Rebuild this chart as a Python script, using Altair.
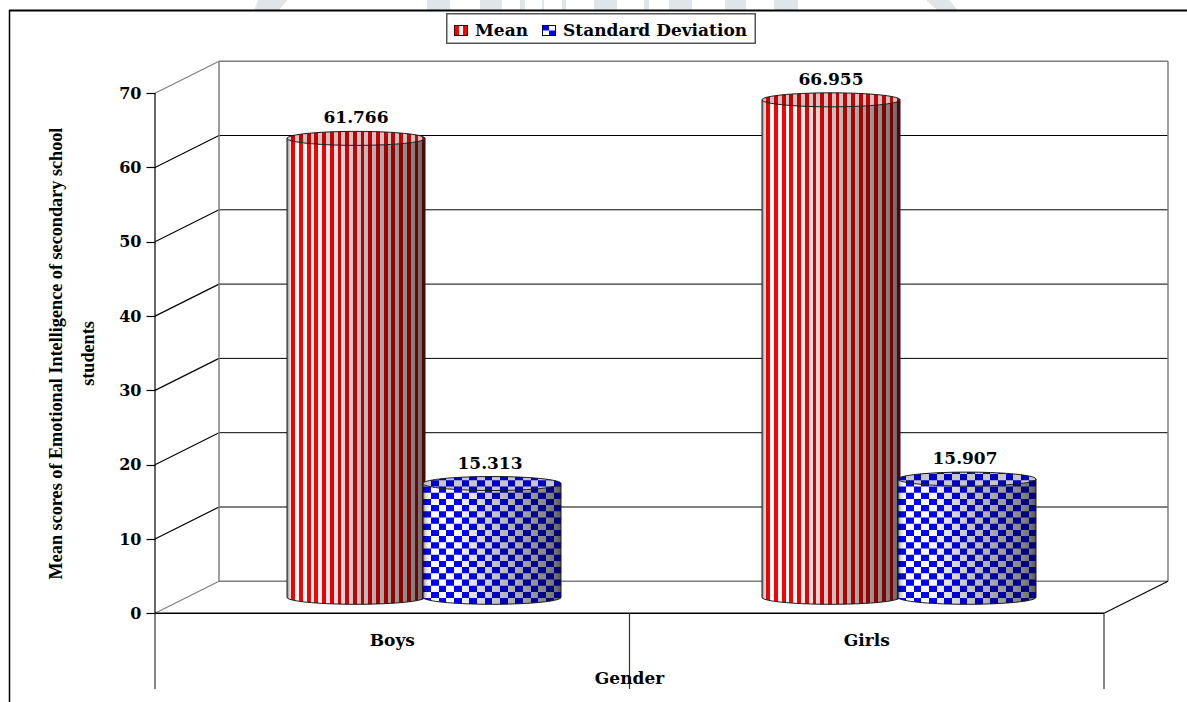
import math
import altair as alt
import pandas as pd

# Chart values
categories = ["Boys", "Girls"]
mean_scores = [61.766, 66.955]
std_devs = [15.313, 15.907]
y_ticks = [0, 10, 20, 30, 40, 50, 60, 70]
y_title = ["Mean scores of Emotional Intelligence of secondary school", "students"]
x_title = "Gender"

# Scale calibration: category units across, score units up
PX_PER_CAT = 474.5
PX_PER_VAL = 7.43
X0 = 155.0
Y0 = 613.3
W, H = 1187, 702
ux = lambda px: (px - X0) / PX_PER_CAT
uy = lambda py: (Y0 - py) / PX_PER_VAL
x_scale = alt.Scale(domain=[ux(0), ux(W)], range=[0, W], nice=False, zero=False)
y_scale = alt.Scale(domain=[uy(H), uy(0)], range=[H, 0], nice=False, zero=False)

# Oblique depth of the 3D box and cylinder proportions
DEPTH_X = 64 / PX_PER_CAT
DEPTH_Y = 32 / PX_PER_VAL
CYL_W = 138
CAP_B = 7 / PX_PER_VAL
SERIF = "Liberation Serif"
WIDE = "DejaVu Serif"
H_FONT = 17


def mix(rgb, k):
    return "#%02x%02x%02x" % tuple(max(0, min(255, round(c * k))) for c in rgb)


SHADE_STOPS = [(0, .5), (.02, .85), (.05, 1), (.2, 1), (.5, .78), (.75, .62), (.9, .52), (.96, .45), (1, .35)]


def shade(t):
    for (a, ka), (b, kb) in zip(SHADE_STOPS, SHADE_STOPS[1:]):
        if t <= b:
            return ka + (kb - ka) * (t - a) / (b - a)
    return SHADE_STOPS[-1][1]


RED, BLUE, WHITE = (255, 0, 0), (0, 0, 255), (255, 255, 255)
STRIPE = 3.85
CELL_W, CELL_H = 7.65, 6.2
CAP_SHADE = .78


def rects_frame(left, value, kind):
    """Per-column rectangles that paint the patterned surface of one cylinder."""
    rows = []
    half = CYL_W / 2
    cx = left + half
    vc_top = value + DEPTH_Y / 2
    vc_bot = DEPTH_Y / 2

    def add(px, v0, v1, col):
        rows.append(dict(x=ux(px), x2=ux(px + 1), y=v0, y2=v1, c=col))

    for i in range(CYL_W):
        px = left + i
        t = (i + .5) / CYL_W
        arc = CAP_B * math.sqrt(max(0, 1 - ((px + .5 - cx) / half) ** 2))
        k = shade(t)
        if kind == "stripe":
            tint = RED if int(i / STRIPE) % 2 == 1 else WHITE
            add(px, vc_bot - arc, vc_top - arc, mix(tint, k))
            add(px, vc_top - arc, vc_top + arc, mix(tint, CAP_SHADE))
        else:
            col_i = int(i / CELL_W)
            add(px, vc_bot - arc, vc_top - arc, mix(WHITE, k))
            add(px, vc_top - arc, vc_top + arc, mix(WHITE, CAP_SHADE))
            # Blue checks, cut to the curved outline of the body and of the cap
            span_top = vc_top + arc
            span_bot = vc_bot - arc
            rim = vc_top - arc
            v = DEPTH_Y / 2 - CAP_B
            step = CELL_H / PX_PER_VAL
            row = 0
            while v < span_top:
                if (row + col_i) % 2 == 0:
                    lo, hi = max(v, span_bot), min(v + step, span_top)
                    if hi > lo:
                        if lo < rim:
                            add(px, lo, min(hi, rim), mix(BLUE, max(k, .5)))
                        if hi > rim:
                            add(px, max(lo, rim), hi, mix(BLUE, CAP_SHADE))
                v += step
                row += 1
    return pd.DataFrame(rows)


def outline_frame(left, value):
    """Outline of one cylinder: closed top ellipse, side walls and lower rim."""
    rows = []
    half = CYL_W / 2
    cx = left + half
    vc_top = value + DEPTH_Y / 2
    vc_bot = DEPTH_Y / 2
    for j in range(73):
        a = 2 * math.pi * j / 72
        rows.append(dict(g="cap", i=j, x=ux(cx + half * math.cos(a)), y=vc_top + CAP_B * math.sin(a)))
    for j in range(37):
        a = math.pi * j / 36
        rows.append(dict(g="rim", i=j, x=ux(cx + half * math.cos(a)), y=vc_bot - CAP_B * math.sin(a)))
    for s, sign in (("wl", -1), ("wr", 1)):
        rows.append(dict(g=s, i=0, x=ux(cx + sign * half), y=vc_top))
        rows.append(dict(g=s, i=1, x=ux(cx + sign * half), y=vc_bot))
    return pd.DataFrame(rows)


def rect_layer(df):
    return alt.Chart(df).mark_rect(strokeWidth=0).encode(
        x=alt.X("x:Q", scale=x_scale, axis=None), x2="x2:Q",
        y=alt.Y("y:Q", scale=y_scale, axis=None), y2="y2:Q",
        fill=alt.Fill("c:N", scale=None),
    )


def rule_layer(df, axis=None):
    return alt.Chart(df).mark_rule().encode(
        x=alt.X("x:Q", scale=x_scale, axis=None), x2="x2:Q",
        y=alt.Y("y:Q", scale=y_scale, axis=axis), y2="y2:Q",
        stroke=alt.Stroke("c:N", scale=None),
        strokeWidth=alt.StrokeWidth("w:Q", scale=None),
    )


def seg(x, y, x2, y2, c="#000000", w=1.0):
    return dict(x=x, y=y, x2=x2, y2=y2, c=c, w=w)


# Faint letter fragments showing along the top edge of the page
WASH = "#dfe5e9"
wash_spans = [(427, 450), (480, 502), (520, 525), (542, 544), (562, 566), (594, 617),
              (644, 649), (669, 692), (725, 746), (774, 798)]
wash_rows = [dict(x=ux(a), x2=ux(b), y=uy(0), y2=uy(10), c=WASH) for a, b in wash_spans]
for row in range(5):
    top, bot = row * 2, row * 2 + 2
    wash_rows.append(dict(x=ux(258 - row * .9), x2=ux(287 - row * 1.8), y=uy(top), y2=uy(bot), c=WASH))
    wash_rows.append(dict(x=ux(927 + row * 2.2), x2=ux(950 + row * 1.6), y=uy(top), y2=uy(bot), c=WASH))
wash = rect_layer(pd.DataFrame(wash_rows))

# Page border: top and left edges only
border = rule_layer(pd.DataFrame([
    seg(ux(9), uy(10.5), ux(W), uy(10.5), "#000000", 2),
    seg(ux(9.5), uy(10), ux(9.5), uy(H), "#000000", 1.5),
]))

# Oblique box: back wall, floor and left wall
GREY = "#7f7f7f"
box_rows = []
for v in y_ticks:
    edge = v in (y_ticks[0], y_ticks[-1])
    c, w = (GREY, 1.5) if edge else ("#000000", 1.0)
    box_rows.append(seg(DEPTH_X, v + DEPTH_Y, 2 + DEPTH_X, v + DEPTH_Y, c, w))
    box_rows.append(seg(0, v, DEPTH_X, v + DEPTH_Y, c if edge else "#000000", 1.2))
box_rows += [
    seg(DEPTH_X, DEPTH_Y, DEPTH_X, y_ticks[-1] + DEPTH_Y, GREY, 1.5),
    seg(2 + DEPTH_X, DEPTH_Y, 2 + DEPTH_X, y_ticks[-1] + DEPTH_Y, GREY, 1.5),
    seg(2, 0, 2 + DEPTH_X, DEPTH_Y, "#000000", 1.2),
]
y_axis = alt.Axis(
    values=y_ticks, offset=-X0, domain=False, grid=False, tickSize=9, tickColor="#000000", tickWidth=1.2,
    labelFont=WIDE, labelFontSize=16, labelFontWeight="bold", labelColor="#000000", labelPadding=5,
    title=y_title, titleFont=SERIF, titleFontSize=18.2, titleFontWeight="bold", titleColor="#000000",
    titleLineHeight=32, titleAngle=270, titleX=-90, titleY=353, titleAlign="center", titleBaseline="bottom",
)
box = rule_layer(pd.DataFrame(box_rows), axis=y_axis)

# Front edges of the box and the category dividers under the floor
AX_BOTTOM = uy(689)
front = rule_layer(pd.DataFrame([
    seg(0, 0, 0, y_ticks[-1], "#000000", 1.2),
    seg(0, 0, 2, 0, "#000000", 1.5),
    seg(0, AX_BOTTOM, 0, 0, "#333333", 1.2),
    seg(1, AX_BOTTOM, 1, 0, "#333333", 1.2),
    seg(2, AX_BOTTOM, 2, 0, "#333333", 1.2),
]))

# One striped and one checked cylinder per category
cyl_layers = []
label_rows = []
for i, cat in enumerate(categories):
    group_px = X0 + PX_PER_CAT * (i + .5) + 32
    for value, kind, off in ((mean_scores[i], "stripe", -137), (std_devs[i], "check", -1)):
        left = round(group_px + off)
        cyl_layers.append(rect_layer(rects_frame(left, value, kind)))
        cyl_layers.append(
            alt.Chart(outline_frame(left, value)).mark_line(color="#1a1a1a", strokeWidth=1).encode(
                x=alt.X("x:Q", scale=x_scale, axis=None),
                y=alt.Y("y:Q", scale=y_scale, axis=None),
                detail="g:N", order="i:Q",
            )
        )
        label_rows.append(dict(x=ux(left + CYL_W / 2 - (2 if kind == "check" else 0)),
                               y=value + DEPTH_Y / 2 + CAP_B, t=f"{value:.3f}"))


def text_layer(rows, size=H_FONT, align="center", baseline="middle", dy=0, font=WIDE):
    return alt.Chart(pd.DataFrame(rows)).mark_text(
        font=font, fontSize=size, fontWeight="bold", color="#000000",
        align=align, baseline=baseline, dy=dy,
    ).encode(
        x=alt.X("x:Q", scale=x_scale, axis=None),
        y=alt.Y("y:Q", scale=y_scale, axis=None),
        text="t:N",
    )


value_labels = text_layer(label_rows, baseline="alphabetic", dy=-8)
cat_labels = text_layer([dict(x=i + .5, y=uy(641), t=c) for i, c in enumerate(categories)])
x_label = text_layer([dict(x=1, y=uy(678.5), t=x_title)])

# Legend box with hand-patterned swatches
legend_rects = rect_layer(pd.DataFrame([
    dict(x=ux(446), x2=ux(756), y=uy(13), y2=uy(44), c="#555555"),
    dict(x=ux(447.5), x2=ux(754.5), y=uy(14.5), y2=uy(42.5), c="#ffffff"),
    dict(x=ux(454), x2=ux(468), y=uy(25), y2=uy(36), c="#440000"),
    dict(x=ux(455), x2=ux(467), y=uy(26), y2=uy(35), c="#ff0000"),
    dict(x=ux(459), x2=ux(463), y=uy(26), y2=uy(35), c="#ffffff"),
    dict(x=ux(542), x2=ux(556), y=uy(25), y2=uy(36), c="#000044"),
    dict(x=ux(543), x2=ux(555), y=uy(26), y2=uy(35), c="#0000ff"),
    dict(x=ux(549), x2=ux(555), y=uy(26), y2=uy(30.5), c="#ffffff"),
    dict(x=ux(543), x2=ux(549), y=uy(30.5), y2=uy(35), c="#ffffff"),
]))
legend_text = text_layer([
    dict(x=ux(475), y=uy(30.5), t="Mean"),
    dict(x=ux(563), y=uy(30.5), t="Standard Deviation"),
], align="left")

chart = alt.layer(
    wash, border, box, front, *cyl_layers, value_labels, cat_labels, x_label, legend_rects, legend_text
).resolve_axis(y="independent").properties(
    width=W, height=H, padding=0, background="#ffffff",
    autosize=alt.AutoSizeParams(type="none"),
).configure_view(stroke=None)

chart.save("out.html", embed_options={"renderer": "svg", "actions": False})
